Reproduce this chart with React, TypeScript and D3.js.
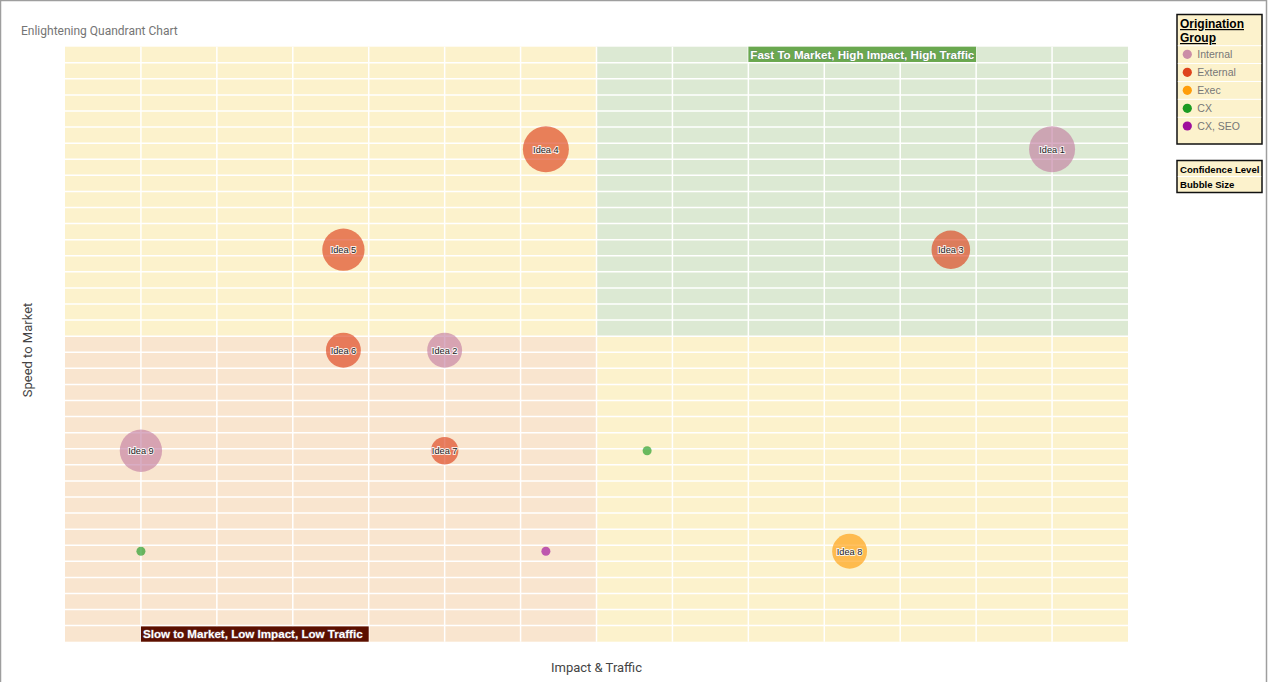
import React from "react";
import * as d3 from "d3";

// ---- data ----
const ideaLabels = ["Idea 1", "Idea 2", "Idea 3", "Idea 4", "Idea 5", "Idea 6", "Idea 7", "Idea 8", "Idea 9", "", "", ""];
const impactValues = [10, 4, 9, 5, 3, 3, 4, 8, 1, 6, 1, 5];
const speedValues = [5, 3, 4, 5, 4, 3, 2, 1, 2, 2, 1, 1];
const groupValues = ["Internal", "Internal", "External", "External", "External", "External", "External", "Exec", "Internal", "CX", "CX", "CX, SEO"];
const confidenceValues = [10, 7, 8, 10, 9, 7, 5, 7, 9, 0, 0, 0];

const groups = ["Internal", "External", "Exec", "CX", "CX, SEO"];
const groupColors = ["#c27ba0", "#dc3912", "#ff9900", "#109618", "#990099"];

const xDomain = [0.25, 10.75];
const yDomain = [0.1, 6.02];
const xGridStep = 0.75;
const yGridStep = 0.16;
const xSplit = 5.5;
const ySplit = 3.14;

export default function App() {
  const W = 1268, H = 682;
  const left = 65, right = 1128, top = 46.7, bottom = 641.7;
  const x = d3.scaleLinear().domain(xDomain).range([left, right]);
  const y = d3.scaleLinear().domain(yDomain).range([bottom, top]);
  const r = d3.scaleLinear().domain([0, 10]).range([4.5, 23]);
  const color = d3.scaleOrdinal<string, string>().domain(groups).range(groupColors);

  const nCols = Math.round((xDomain[1] - xDomain[0]) / xGridStep);
  const nRows = Math.round((yDomain[1] - yDomain[0]) / yGridStep);
  const xs = d3.range(1, nCols).map((i) => x(xDomain[0] + i * xGridStep));
  const ys = d3.range(1, nRows).map((i) => y(yDomain[0] + i * yGridStep));

  const points = ideaLabels.map((label, i) => ({
    label,
    cx: x(impactValues[i]),
    cy: y(speedValues[i]),
    r: r(confidenceValues[i]),
    fill: color(groupValues[i]),
  }));

  const xm = x(xSplit), ym = y(ySplit);

  // quadrant label cells
  const fastX0 = x(xDomain[0] + 9 * xGridStep);
  const fastX1 = x(xDomain[0] + 12 * xGridStep);
  const fastY0 = y(yDomain[1]);
  const fastY1 = y(yDomain[1] - yGridStep);
  const slowX0 = x(xDomain[0] + 1 * xGridStep);
  const slowX1 = x(xDomain[0] + 4 * xGridStep);
  const slowY0 = y(yDomain[0] + yGridStep);
  const slowY1 = y(yDomain[0]);

  const legendRowsY = [54.3, 72.3, 90.3, 108.3, 126];

  return (
    <div style={{ position: "absolute", left: 0, top: 0 }}>
      <svg width={W} height={H} style={{ display: "block", background: "#fff" }}>
        <defs>
          <clipPath id="fastClip">
            <rect x={fastX0} y={fastY0} width={fastX1 - fastX0} height={fastY1 - fastY0} />
          </clipPath>
          <clipPath id="slowClip">
            <rect x={slowX0} y={slowY0} width={slowX1 - slowX0} height={slowY1 - slowY0} />
          </clipPath>
        </defs>
        {/* page border */}
        <rect x={0.5} y={0.5} width={W - 2} height={H + 10} fill="none" stroke="#9e9e9e" strokeWidth={1.5} />

        <text x={21} y={35} fontFamily="Roboto, Arial, sans-serif" fontSize={12} fill="#757575">
          Enlightening Quandrant Chart
        </text>

        {/* quadrants */}
        <rect x={left} y={top} width={xm - left} height={ym - top} fill="#fcf2cc" />
        <rect x={xm} y={top} width={right - xm} height={ym - top} fill="#dce9d3" />
        <rect x={left} y={ym} width={xm - left} height={bottom - ym} fill="#f9e5cf" />
        <rect x={xm} y={ym} width={right - xm} height={bottom - ym} fill="#fcf2cc" />

        {/* grid */}
        {xs.map((v, i) => (
          <line key={"gx" + i} x1={v} x2={v} y1={top} y2={bottom} stroke="#fff" strokeWidth={1.5} />
        ))}
        {ys.map((v, i) => (
          <line key={"gy" + i} x1={left} x2={right} y1={v} y2={v} stroke="#fff" strokeWidth={1.5} />
        ))}

        {/* quadrant labels */}
        <rect x={fastX0} y={fastY0} width={fastX1 - fastX0} height={fastY1 - fastY0 - 0.8} fill="#6aa84f" />
        <g clipPath="url(#fastClip)">
          <text x={fastX0 + 2} y={fastY1 - 4} fontFamily="Arial, 'Liberation Sans', sans-serif" fontWeight="bold" fontSize={11.6}
            fill="#fff" stroke="rgba(90,110,130,0.45)" strokeWidth={1} paintOrder="stroke">
            Fast To Market, High Impact, High Traffic
          </text>
        </g>
        <rect x={slowX0} y={slowY0 + 0.8} width={slowX1 - slowX0} height={slowY1 - slowY0 - 0.8} fill="#5b0f00" />
        <g clipPath="url(#slowClip)">
          <text x={slowX0 + 2} y={slowY1 - 4} fontFamily="Arial, 'Liberation Sans', sans-serif" fontWeight="bold" fontSize={11.6}
            fill="#fff" stroke="rgba(160,160,190,0.45)" strokeWidth={1} paintOrder="stroke">
            Slow to Market, Low Impact, Low Traffic
          </text>
        </g>

        {/* bubbles */}
        {points.map((p, i) => (
          <circle key={"c" + i} cx={p.cx} cy={p.cy} r={p.r} fill={p.fill} fillOpacity={0.62} />
        ))}
        {points.map((p, i) =>
          p.label ? (
            <text key={"t" + i} x={p.cx} y={p.cy + 3.3} textAnchor="middle" fontFamily="Arial, 'Liberation Sans', sans-serif"
              fontSize={9.2} fill="#222" stroke="#fff" strokeWidth={2} strokeOpacity={0.85} paintOrder="stroke">
              {p.label}
            </text>
          ) : null
        )}

        {/* axis titles */}
        <text x={(left + right) / 2} y={672} textAnchor="middle" fontFamily="Roboto, Arial, sans-serif" fontSize={13} fill="#444">
          Impact &amp; Traffic
        </text>
        <text transform={`translate(32,350) rotate(-90)`} textAnchor="middle" fontFamily="Roboto, Arial, sans-serif"
          fontSize={13} fill="#444">
          Speed to Market
        </text>

        {/* legend */}
        <rect x={1177} y={14.5} width={85} height={129.5} fill="#fcf2cc" stroke="#111" strokeWidth={1.5} />
        <text x={1180} y={28} fontFamily="Arial, 'Liberation Sans', sans-serif" fontWeight="bold" fontSize={12} fill="#000" textDecoration="underline">
          Origination
        </text>
        <text x={1180} y={42} fontFamily="Arial, 'Liberation Sans', sans-serif" fontWeight="bold" fontSize={12} fill="#000" textDecoration="underline">
          Group
        </text>
        {[45.7, 63.5, 81.5, 99.3, 117.3].map((v, i) => (
          <line key={"ls" + i} x1={1177.8} x2={1261.2} y1={v} y2={v} stroke="#fff" strokeWidth={1} />
        ))}
        {groups.map((g, i) => (
          <g key={"lg" + i}>
            <circle cx={1187.3} cy={legendRowsY[i]} r={4.6} fill={color(g)} fillOpacity={i === 0 ? 0.85 : 0.95} />
            <text x={1197.3} y={legendRowsY[i] + 3.8} fontFamily="Arial, 'Liberation Sans', sans-serif" fontSize={10.5} fill="#777">
              {g}
            </text>
          </g>
        ))}

        <rect x={1177} y={160.5} width={85} height={32} fill="#fcf2cc" stroke="#111" strokeWidth={1.5} />
        <line x1={1177.8} x2={1261.2} y1={176.5} y2={176.5} stroke="#fff" strokeWidth={1} />
        <text x={1180} y={172.5} fontFamily="Arial, 'Liberation Sans', sans-serif" fontWeight="bold" fontSize={9.6} fill="#000">
          Confidence Level
        </text>
        <text x={1180} y={188} fontFamily="Arial, 'Liberation Sans', sans-serif" fontWeight="bold" fontSize={9.6} fill="#000">
          Bubble Size
        </text>
      </svg>
    </div>
  );
}
